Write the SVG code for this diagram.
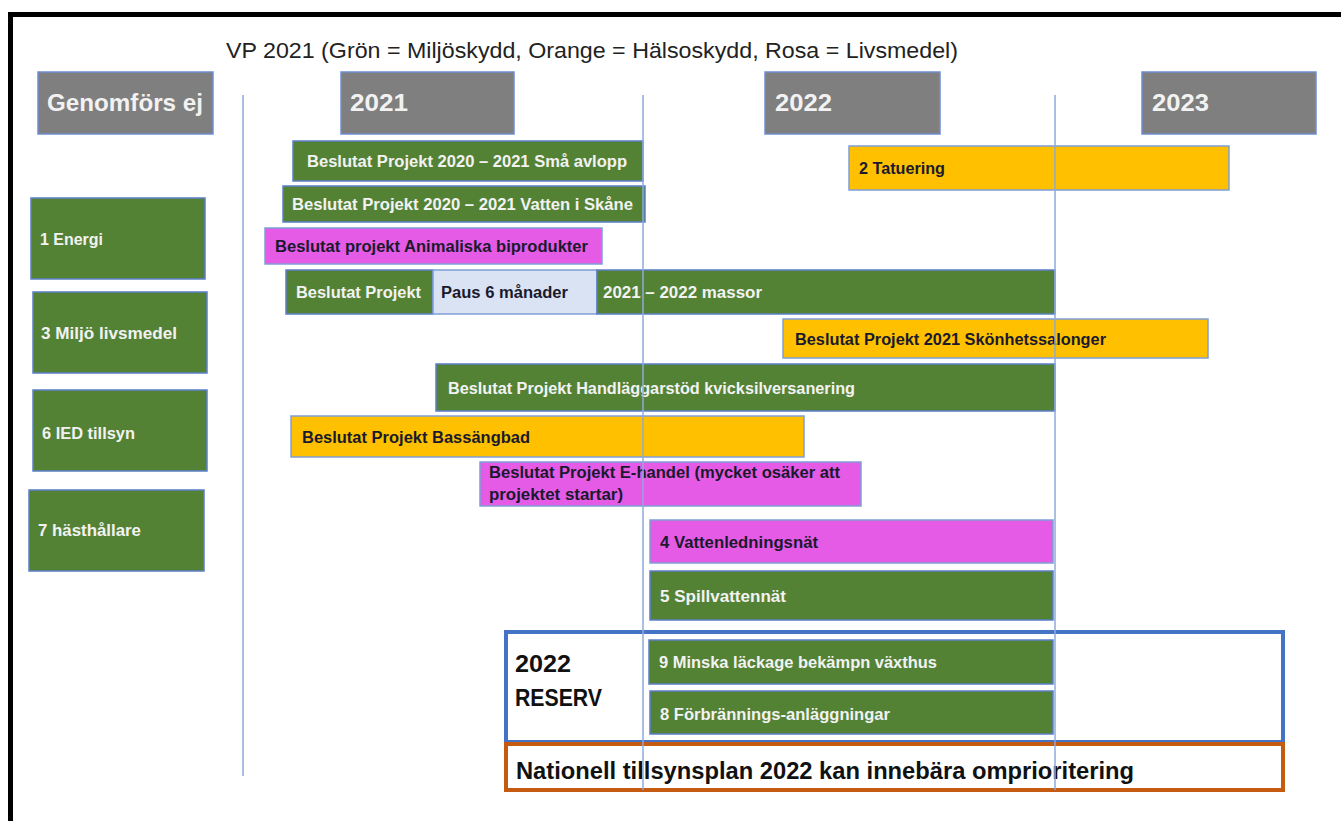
<svg xmlns="http://www.w3.org/2000/svg" width="1341" height="821" viewBox="0 0 1341 821">
<style>
.t{font-family:"Liberation Sans",Arial,sans-serif;font-weight:bold;}
.w{fill:#f2f2f2;font-size:16px;}
.d{fill:#1a1a2e;font-size:16px;}
.g{fill:#548235;stroke:#5b7fc7;stroke-width:1.5;}
.o{fill:#ffc000;stroke:#7f9fd6;stroke-width:1.5;}
.p{fill:#e65be6;stroke:#7f9fd6;stroke-width:1.5;}
.lb{fill:#dae3f3;stroke:#7f9fd6;stroke-width:1.5;}
.hd{fill:#7f7f7f;stroke:#6f8fd0;stroke-width:1.5;}
.yr{fill:#f2f2f2;font-size:23px;}
.lf{fill:#f2f2f2;font-size:17px;}
.vl{stroke:#8eaadb;stroke-width:1.5;fill:none;}
</style>
<rect x="0" y="0" width="1341" height="821" fill="#ffffff"/>
<rect x="8" y="12" width="1333" height="5" fill="#000"/>
<rect x="8" y="12" width="5" height="809" fill="#000"/>
<text x="226" y="58" font-family="Liberation Sans,Arial,sans-serif" font-size="22" fill="#222" textLength="732" lengthAdjust="spacingAndGlyphs">VP 2021 (Grön = Miljöskydd,  Orange = Hälsoskydd,  Rosa = Livsmedel)</text>

<g id="hdr-genomfors"><rect class="hd" x="38" y="72" width="175" height="62"/><text class="t yr" x="47" y="111" textLength="156" lengthAdjust="spacingAndGlyphs">Genomförs ej</text></g>
<g id="hdr-2021"><rect class="hd" x="341" y="72" width="173" height="62"/><text class="t yr" x="350" y="111" textLength="58" lengthAdjust="spacingAndGlyphs">2021</text></g>
<g id="hdr-2022"><rect class="hd" x="765" y="72" width="175" height="62"/><text class="t yr" x="775" y="111" textLength="57" lengthAdjust="spacingAndGlyphs">2022</text></g>
<g id="hdr-2023"><rect class="hd" x="1142" y="72" width="174" height="62"/><text class="t yr" x="1152" y="111" textLength="57" lengthAdjust="spacingAndGlyphs">2023</text></g>

<g id="left-1"><rect class="g" x="31" y="198" width="174" height="81"/><text class="t lf" x="40" y="245" textLength="63" lengthAdjust="spacingAndGlyphs">1 Energi</text></g>
<g id="left-3"><rect class="g" x="33" y="292" width="174" height="81"/><text class="t lf" x="41" y="339" textLength="136" lengthAdjust="spacingAndGlyphs">3 Miljö livsmedel</text></g>
<g id="left-6"><rect class="g" x="33" y="390" width="174" height="81"/><text class="t lf" x="42" y="439" textLength="93" lengthAdjust="spacingAndGlyphs">6 IED tillsyn</text></g>
<g id="left-7"><rect class="g" x="29" y="490" width="175" height="81"/><text class="t lf" x="38" y="536" textLength="103" lengthAdjust="spacingAndGlyphs">7 hästhållare</text></g>

<g id="bar-smaavlopp"><rect class="g" x="293" y="141" width="350" height="40"/><text class="t w" x="307" y="167" textLength="320" lengthAdjust="spacingAndGlyphs">Beslutat Projekt 2020 – 2021 Små avlopp</text></g>
<g id="bar-tatuering"><rect class="o" x="849" y="146" width="380" height="44"/><text class="t d" x="859" y="174" textLength="86" lengthAdjust="spacingAndGlyphs">2 Tatuering</text></g>
<g id="bar-vatten"><rect class="g" x="283" y="186" width="362" height="36"/><text class="t w" x="292" y="210" textLength="341" lengthAdjust="spacingAndGlyphs">Beslutat Projekt 2020 – 2021 Vatten i Skåne</text></g>
<g id="bar-animaliska"><rect class="p" x="265" y="228" width="337" height="36"/><text class="t d" x="275" y="252" textLength="313" lengthAdjust="spacingAndGlyphs">Beslutat projekt Animaliska biprodukter</text></g>
<g id="bar-massor">
<rect class="g" x="286" y="270" width="147" height="44"/>
<rect class="lb" x="433" y="270" width="164" height="44"/>
<rect class="g" x="597" y="270" width="458" height="44"/>
<text class="t w" x="296" y="298" textLength="125" lengthAdjust="spacingAndGlyphs">Beslutat Projekt</text>
<text class="t d" x="441" y="298" textLength="127" lengthAdjust="spacingAndGlyphs">Paus 6 månader</text>
<text class="t w" x="603" y="298" textLength="159" lengthAdjust="spacingAndGlyphs">2021 – 2022 massor</text>
</g>
<g id="bar-skonhet"><rect class="o" x="783" y="319" width="425" height="39"/><text class="t d" x="795" y="345" textLength="311" lengthAdjust="spacingAndGlyphs">Beslutat Projekt 2021 Skönhetssalonger</text></g>
<g id="bar-kvicksilver"><rect class="g" x="436" y="364" width="619" height="47"/><text class="t w" x="448" y="394" textLength="407" lengthAdjust="spacingAndGlyphs">Beslutat Projekt Handläggarstöd kvicksilversanering</text></g>
<g id="bar-bassang"><rect class="o" x="291" y="416" width="513" height="41"/><text class="t d" x="302" y="443" textLength="228" lengthAdjust="spacingAndGlyphs">Beslutat Projekt  Bassängbad</text></g>
<g id="bar-ehandel"><rect class="p" x="480" y="462" width="381" height="44"/><text class="t d" x="489" y="478" textLength="351" lengthAdjust="spacingAndGlyphs">Beslutat Projekt E-handel (mycket osäker att</text><text class="t d" x="489" y="500" textLength="134" lengthAdjust="spacingAndGlyphs">projektet startar)</text></g>
<g id="bar-vattenledning"><rect class="p" x="650" y="520" width="403" height="43"/><text class="t d" x="660" y="548" textLength="158" lengthAdjust="spacingAndGlyphs">4 Vattenledningsnät</text></g>
<g id="bar-spillvatten"><rect class="g" x="650" y="571" width="403" height="49"/><text class="t w" x="660" y="602" textLength="126" lengthAdjust="spacingAndGlyphs">5 Spillvattennät</text></g>

<g id="reserv"><rect x="506" y="632" width="777" height="110" fill="none" stroke="#4472c4" stroke-width="4"/><text class="t" x="515" y="672" font-size="24" fill="#111" textLength="56" lengthAdjust="spacingAndGlyphs">2022</text><text class="t" x="515" y="706" font-size="24" fill="#111" textLength="87" lengthAdjust="spacingAndGlyphs">RESERV</text></g>
<g id="bar-minska"><rect class="g" x="649" y="640" width="404" height="44"/><text class="t w" x="659" y="668" textLength="278" lengthAdjust="spacingAndGlyphs">9 Minska läckage bekämpn växthus</text></g>
<g id="bar-forbranning"><rect class="g" x="650" y="691" width="403" height="43"/><text class="t w" x="660" y="720" textLength="230" lengthAdjust="spacingAndGlyphs">8  Förbrännings-anläggningar</text></g>

<g id="nationell"><rect x="506" y="744" width="777" height="46" fill="#fff" stroke="#c55a11" stroke-width="4"/><text class="t" x="516" y="779" font-size="23" fill="#111" textLength="618" lengthAdjust="spacingAndGlyphs">Nationell tillsynsplan 2022 kan innebära omprioritering</text></g>

<g id="connectors">
<line class="vl" x1="243" y1="95" x2="243" y2="776"/>
<line class="vl" x1="643" y1="95" x2="643" y2="790"/>
<line class="vl" x1="1055" y1="95" x2="1055" y2="790"/>
</g>
</svg>
